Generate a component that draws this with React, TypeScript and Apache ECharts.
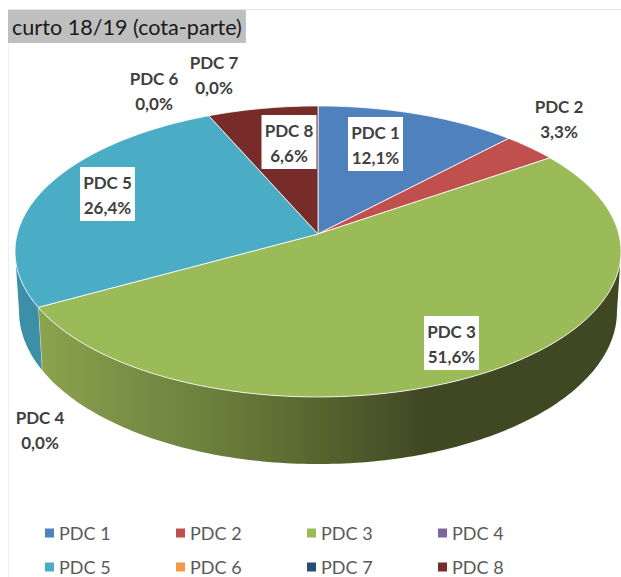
import React, { useEffect, useRef } from "react";
import * as echarts from "echarts";

const titleText = "curto 18/19 (cota-parte)";
const categories = ["PDC 1", "PDC 2", "PDC 3", "PDC 4", "PDC 5", "PDC 6", "PDC 7", "PDC 8"];
const values = [12.1, 3.3, 51.6, 0, 26.4, 0, 0, 6.6];
const colors = ["#4f81bd", "#c0504d", "#9bbb59", "#8064a2", "#4bacc6", "#f79646", "#2c4d75", "#772c2a"];

// label centres (manually placed in the original chart) and whether they carry a white box
const labelCenters = [[375.5, 144], [559, 119], [451.5, 343], [40, 430], [107.5, 194], [154, 91], [214, 75], [289, 142]];
const labelBoxed = [true, false, true, false, true, false, false, true];

// perspective disc model: top face and bottom face of the 3D pie
const K = 0.12;
const TOP = { cx: 318, cy: 234, a: 143.4, b: 300.8 };
const BOTTOM = { cx: 318, cy: 293, a: 150.5, b: 296.8 };
const VISIBLE_FROM = (Math.acos(-K) * 180) / Math.PI;
const VISIBLE_TO = 360 - VISIBLE_FROM;

type Plane = typeof TOP;
const project = (deg: number, p: Plane): number[] => {
  const t = (deg * Math.PI) / 180;
  const x = Math.sin(t);
  const y = -Math.cos(t);
  const w = 1 - K * y;
  return [p.cx + (p.b * x) / w, p.cy + (p.a * y) / w];
};
const arc = (from: number, to: number, p: Plane): number[][] => {
  const out: number[][] = [];
  const n = Math.max(2, Math.ceil(Math.abs(to - from)));
  for (let i = 0; i <= n; i++) out.push(project(from + ((to - from) * i) / n, p));
  return out;
};

const total = values.reduce((s, v) => s + v, 0);
const startAngle = (i: number) => (values.slice(0, i).reduce((s, v) => s + v, 0) / total) * 360;

const greenWall = () =>
  new echarts.graphic.LinearGradient(
    38, 0, 621, 0,
    [
      { offset: 0, color: "#8ba44e" },
      { offset: 0.14, color: "#7b9146" },
      { offset: 0.28, color: "#6d823e" },
      { offset: 0.47, color: "#59672f" },
      { offset: 0.57, color: "#4d562a" },
      { offset: 0.66, color: "#3f4823" },
      { offset: 1, color: "#3f4823" },
    ],
    true
  );
const wallFill = (i: number) => (i === 2 ? greenWall() : i === 4 ? "#3d8fa7" : colors[i]);

const makeRenderItem = (i: number) => () => {
  const children: any[] = [];
  const v = values[i];
  const from = startAngle(i);
  const to = from + (v / total) * 360;
  if (v > 0) {
    const wFrom = Math.max(from, VISIBLE_FROM);
    const wTo = Math.min(to, VISIBLE_TO);
    if (wTo > wFrom) {
      const pts = [...arc(wFrom, wTo, TOP), ...arc(wTo, wFrom, BOTTOM)];
      children.push({ type: "polygon", shape: { points: pts }, style: { fill: wallFill(i) } });
      if (i === 2) {
        children.push({
          type: "line",
          shape: { x1: project(wTo, TOP)[0], y1: project(wTo, TOP)[1], x2: project(wTo, BOTTOM)[0], y2: project(wTo, BOTTOM)[1] },
          style: { stroke: "rgba(255,255,255,0.75)", lineWidth: 1 },
        });
      }
    }
    const hub = [TOP.cx, TOP.cy];
    children.push({
      type: "polygon",
      shape: { points: [hub, ...arc(from, to, TOP)] },
      style: { fill: colors[i], stroke: "rgba(255,255,255,0.8)", lineWidth: 1 },
    });
  }
  const [lx, ly] = labelCenters[i];
  if (labelBoxed[i]) {
    children.push({ type: "rect", shape: { x: lx - 27.5, y: ly - 27, width: 55, height: 54 }, style: { fill: "#ffffff" } });
  }
  children.push({
    type: "text",
    x: lx,
    y: labelBoxed[i] ? ly + 1 : ly,
    style: {
      text: `${categories[i]}\n${v.toFixed(1).replace(".", ",")}%`,
      fill: "#404040",
      font: "bold 17px Lato",
      lineHeight: 25,
      align: "center",
      verticalAlign: "middle",
    },
  });
  return { type: "group", children };
};

const legendItem = (name: string, i: number) => ({
  left: 45 + 131 * (i % 4),
  top: i < 4 ? 524 : 558,
  padding: 0,
  itemWidth: 9,
  itemHeight: 9,
  icon: "rect",
  orient: "horizontal" as const,
  selectedMode: false,
  textStyle: { fontFamily: "Lato", fontSize: 18, color: "#595959" },
  data: [name],
});

export default function App() {
  const ref = useRef<HTMLDivElement>(null);
  useEffect(() => {
    const chart = echarts.init(ref.current!, undefined, { renderer: "svg" });
    chart.setOption({
      animation: false,
      backgroundColor: "#ffffff",
      title: {
        text: titleText,
        left: 8,
        top: 10,
        padding: [5, 4, 5, 4],
        backgroundColor: "#bfbfbf",
        textStyle: { fontFamily: "Lato", fontSize: 21.6, fontWeight: "normal", color: "#1a1a1a", lineHeight: 23 },
      },
      legend: categories.map(legendItem),
      graphic: [
        { type: "line", z: -1, shape: { x1: 8, y1: 9.5, x2: 621, y2: 9.5 }, style: { stroke: "#e6e6e6", lineWidth: 1 } },
        { type: "line", z: -1, shape: { x1: 8.5, y1: 10, x2: 8.5, y2: 577 }, style: { stroke: "#efefef", lineWidth: 1 } },
      ],
      series: categories.map((name, i) => ({
        type: "custom",
        name,
        coordinateSystem: "none",
        itemStyle: { color: colors[i] },
        data: [[values[i]]],
        renderItem: makeRenderItem(i),
      })),
    });
    return () => chart.dispose();
  }, []);
  return <div ref={ref} style={{ position: "absolute", left: 0, top: 0, width: 621, height: 577 }} />;
}
